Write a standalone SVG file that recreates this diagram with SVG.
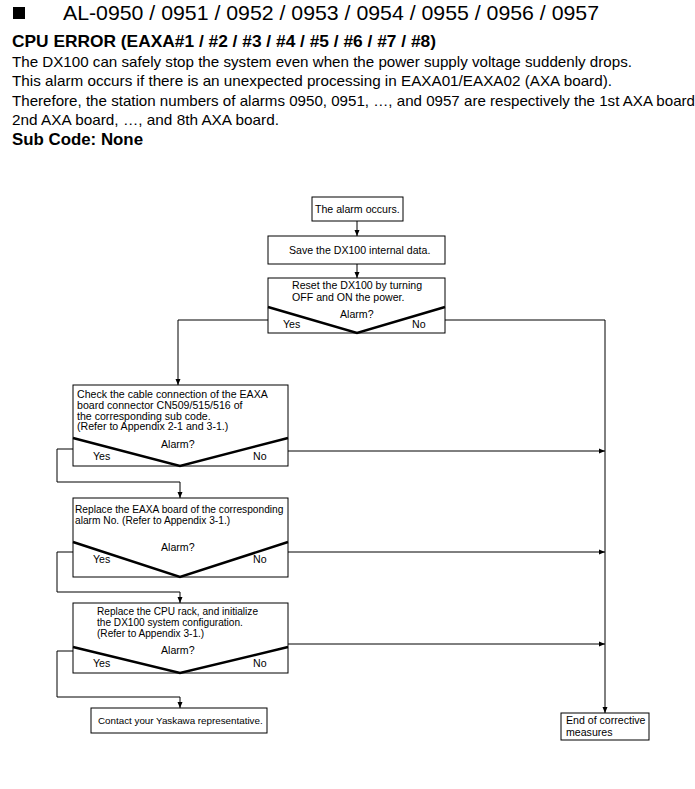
<svg xmlns="http://www.w3.org/2000/svg" width="695" height="789" viewBox="0 0 695 789">
<style>
.t{font-family:"Liberation Sans",Arial,sans-serif;fill:#000}
.b{font-weight:bold}
.f{font-family:"Liberation Sans",Arial,sans-serif;font-size:10.6px;fill:#000}
.s5{font-size:10.2px}
.s6{font-size:10.1px}
.s7{font-size:9.8px}
.box{fill:#fff;stroke:#000;stroke-width:1}
.v{fill:none;stroke:#000;stroke-width:2.4;stroke-linejoin:miter}
.c{fill:none;stroke:#000;stroke-width:1}
</style>
<defs>
<marker id="ah" markerUnits="userSpaceOnUse" markerWidth="6" markerHeight="6" refX="6" refY="3" orient="auto">
<path d="M0,0.5 L6,3 L0,5.5 z" fill="#000"/>
</marker>
</defs>
<rect x="0" y="0" width="695" height="789" fill="#fff"/>
<g id="header">
<rect x="13" y="7" width="12" height="12" fill="#000"/>
<text class="t" x="63" y="20" font-size="21" textLength="536" lengthAdjust="spacingAndGlyphs">AL-0950 / 0951 / 0952 / 0953 / 0954 / 0955 / 0956 / 0957</text>
<text class="t b" x="12" y="46.5" font-size="16.5" textLength="424" lengthAdjust="spacingAndGlyphs">CPU ERROR (EAXA#1 / #2 / #3 / #4 / #5 / #6 / #7 / #8)</text>
<text class="t" x="12" y="66.5" font-size="15" textLength="620" lengthAdjust="spacingAndGlyphs">The DX100 can safely stop the system even when the power supply voltage suddenly drops.</text>
<text class="t" x="12" y="86" font-size="15" textLength="600" lengthAdjust="spacingAndGlyphs">This alarm occurs if there is an unexpected processing in EAXA01/EAXA02 (AXA board).</text>
<text class="t" x="12" y="105.5" font-size="15" textLength="683" lengthAdjust="spacingAndGlyphs">Therefore, the station numbers of alarms 0950, 0951, …, and 0957 are respectively the 1st AXA board</text>
<text class="t" x="12" y="125" font-size="15" textLength="267" lengthAdjust="spacingAndGlyphs">2nd AXA board, …, and 8th AXA board.</text>
<text class="t b" x="12" y="145" font-size="16" textLength="131" lengthAdjust="spacingAndGlyphs">Sub Code: None</text>
</g>
<g id="connectors">
<line class="c" x1="357" y1="221" x2="357" y2="236" marker-end="url(#ah)"/>
<line class="c" x1="357" y1="264" x2="357" y2="278" marker-end="url(#ah)"/>
<polyline class="c" points="268,320 178,320 178,385" marker-end="url(#ah)"/>
<polyline class="c" points="445,320 605,320 605,713" marker-end="url(#ah)"/>
<line class="c" x1="288" y1="451" x2="605" y2="451" marker-end="url(#ah)"/>
<polyline class="c" points="73,449 57,449 57,482 180,482 180,498" marker-end="url(#ah)"/>
<line class="c" x1="288" y1="552" x2="605" y2="552" marker-end="url(#ah)"/>
<polyline class="c" points="73,552 57,552 57,592 180,592 180,603" marker-end="url(#ah)"/>
<line class="c" x1="288" y1="644" x2="605" y2="644" marker-end="url(#ah)"/>
<polyline class="c" points="73,651 57,651 57,697 180,697 180,708" marker-end="url(#ah)"/>
</g>
<g id="n-start">
<rect class="box" x="312" y="197" width="91" height="24"/>
<text class="f" x="315" y="213">The alarm occurs.</text>
</g>
<g id="n-save">
<rect class="box" x="268" y="236" width="177" height="28"/>
<text class="f" x="289" y="254">Save the DX100 internal data.</text>
</g>
<g id="n-reset">
<rect class="box" x="268" y="278" width="177" height="55"/>
<polyline class="v" points="268,307 357,333 445,307"/>
<text class="f" x="292" y="289">Reset the DX100 by turning</text>
<text class="f" x="292" y="301">OFF and ON the power.</text>
<text class="f" x="340" y="318">Alarm?</text>
<text class="f" x="283" y="328">Yes</text>
<text class="f" x="412" y="328">No</text>
</g>
<g id="n-cable">
<rect class="box" x="73" y="385" width="215" height="81"/>
<polyline class="v" points="73,438 180,466 288,438"/>
<text class="f" x="77" y="398">Check the cable connection of the EAXA</text>
<text class="f" x="77" y="409">board connector CN509/515/516 of</text>
<text class="f" x="77" y="419.5">the corresponding sub code.</text>
<text class="f" x="77" y="430">(Refer to Appendix 2-1 and 3-1.)</text>
<text class="f" x="161" y="448">Alarm?</text>
<text class="f" x="93" y="460">Yes</text>
<text class="f" x="253" y="460">No</text>
</g>
<g id="n-board">
<rect class="box" x="73" y="498" width="215" height="79"/>
<polyline class="v" points="73,542 180,577 288,542"/>
<text class="f s5" x="75" y="513">Replace the EAXA board of the corresponding</text>
<text class="f s5" x="75" y="524">alarm No. (Refer to Appendix 3-1.)</text>
<text class="f" x="161" y="551">Alarm?</text>
<text class="f" x="93" y="563">Yes</text>
<text class="f" x="253" y="563">No</text>
</g>
<g id="n-cpu">
<rect class="box" x="73" y="603" width="215" height="70"/>
<polyline class="v" points="73,647 180,673 288,647"/>
<text class="f s6" x="97" y="615">Replace the CPU rack, and initialize</text>
<text class="f s6" x="97" y="626">the DX100 system configuration.</text>
<text class="f s6" x="97" y="636.5">(Refer to Appendix 3-1.)</text>
<text class="f" x="161" y="654">Alarm?</text>
<text class="f" x="93" y="667">Yes</text>
<text class="f" x="253" y="667">No</text>
</g>
<g id="n-contact">
<rect class="box" x="91" y="708" width="176" height="25"/>
<text class="f s7" x="98" y="724">Contact your Yaskawa representative.</text>
</g>
<g id="n-end">
<rect class="box" x="561" y="713" width="88" height="27"/>
<text class="f" x="566" y="724">End of corrective</text>
<text class="f" x="566" y="735.5">measures</text>
</g>
</svg>
